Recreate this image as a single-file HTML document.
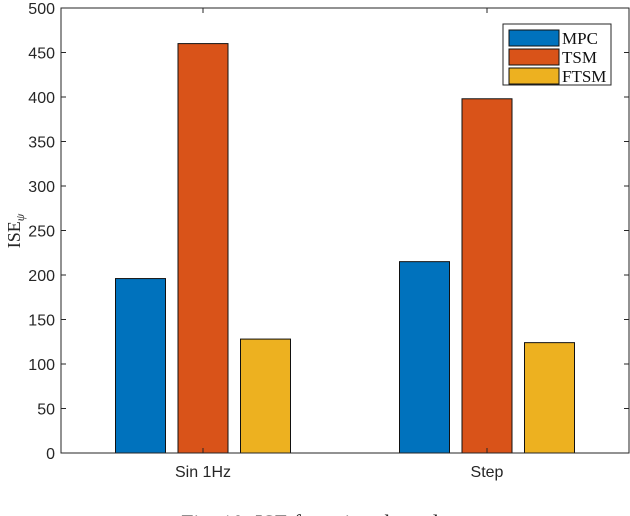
<!DOCTYPE html>
<html><head><meta charset="utf-8"><style>
body{margin:0;background:#fff;width:630px;height:516px;overflow:hidden}
svg{display:block}
.serif{font-family:"Liberation Serif",serif}
</style></head><body>
<svg id="chart" width="630" height="516" xmlns="http://www.w3.org/2000/svg" style="font-family:'Liberation Sans',sans-serif">
<g id="plot"></g>
<text class="serif" x="315" y="530" text-anchor="middle" font-size="22" fill="#222">Fig. 10: ISE for azimuth angle</text>
</svg>
<script>
const categories = ["Sin 1Hz", "Step"];
const seriesNames = ["MPC", "TSM", "FTSM"];
const mpcValues = [196, 215];
const tsmValues = [460, 398];
const ftsmValues = [128, 124];
const yTicks = [0, 50, 100, 150, 200, 250, 300, 350, 400, 450, 500];

const colors = ["#0072BD", "#D95319", "#EDB120"];
const series = [mpcValues, tsmValues, ftsmValues];
const L = 61, R = 629, T = 8, B = 453;
const y = v => B - (v - 0) / 500 * (B - T);
const x = v => L + (v - 0.5) / 2 * (R - L);
const NS = "http://www.w3.org/2000/svg";
const g = document.getElementById("plot");
function mk(tag, attrs, parent) {
  const e = document.createElementNS(NS, tag);
  for (const k in attrs) e.setAttribute(k, attrs[k]);
  (parent || g).appendChild(e);
  return e;
}
const step = 62.5 / 284, bw = 50 / 284;
categories.forEach((c, i) => {
  series.forEach((s, j) => {
    const left = x((i + 1) + (j - 1) * step - bw / 2);
    const right = x((i + 1) + (j - 1) * step + bw / 2);
    const r = mk("rect", {x: left, y: y(s[i]), width: right - left, height: B - y(s[i]), fill: colors[j], stroke: "#111", "stroke-width": 1});
    
    
  });
});
const box = mk("rect", {x: L, y: T, width: R - L, height: B - T, fill: "none", stroke: "#262626", "stroke-width": 1});


yTicks.forEach(t => {
  mk("line", {x1: L, x2: L + 5, y1: y(t), y2: y(t), stroke: "#262626"});
  mk("line", {x1: R, x2: R - 5, y1: y(t), y2: y(t), stroke: "#262626"});
  const tx = mk("text", {x: L - 6, y: y(t) + 6, "text-anchor": "end", "font-size": 16, fill: "#262626"});
  tx.textContent = t;
  
  
});
categories.forEach((c, i) => {
  mk("line", {x1: x(i + 1), x2: x(i + 1), y1: B, y2: B - 5, stroke: "#262626"});
  mk("line", {x1: x(i + 1), x2: x(i + 1), y1: T, y2: T + 5, stroke: "#262626"});
  const tx = mk("text", {x: x(i + 1), y: B + 24, "text-anchor": "middle", "font-size": 16, fill: "#262626"});
  tx.textContent = c;
  
  
});
const yt = mk("text", {x: 0, y: 0, transform: "translate(20,231) rotate(-90)", "text-anchor": "middle", "font-size": 18, class: "serif", fill: "#262626"});
yt.innerHTML = 'ISE<tspan font-size="12" dy="4" font-style="italic">ψ</tspan>';


const lg = mk("g", {});


mk("rect", {x: 503, y: 24, width: 108, height: 61, fill: "#fff", stroke: "#262626"}, lg);
seriesNames.forEach((n, j) => {
  const yy = 30 + j * 19;
  mk("rect", {x: 509, y: yy, width: 50, height: 16, fill: colors[j], stroke: "#111"}, lg);
  const tx = mk("text", {x: 562, y: yy + 14, "font-size": 17, class: "serif", fill: "#111"}, lg);
  tx.textContent = n;
  
  
});
</script>
</body></html>
